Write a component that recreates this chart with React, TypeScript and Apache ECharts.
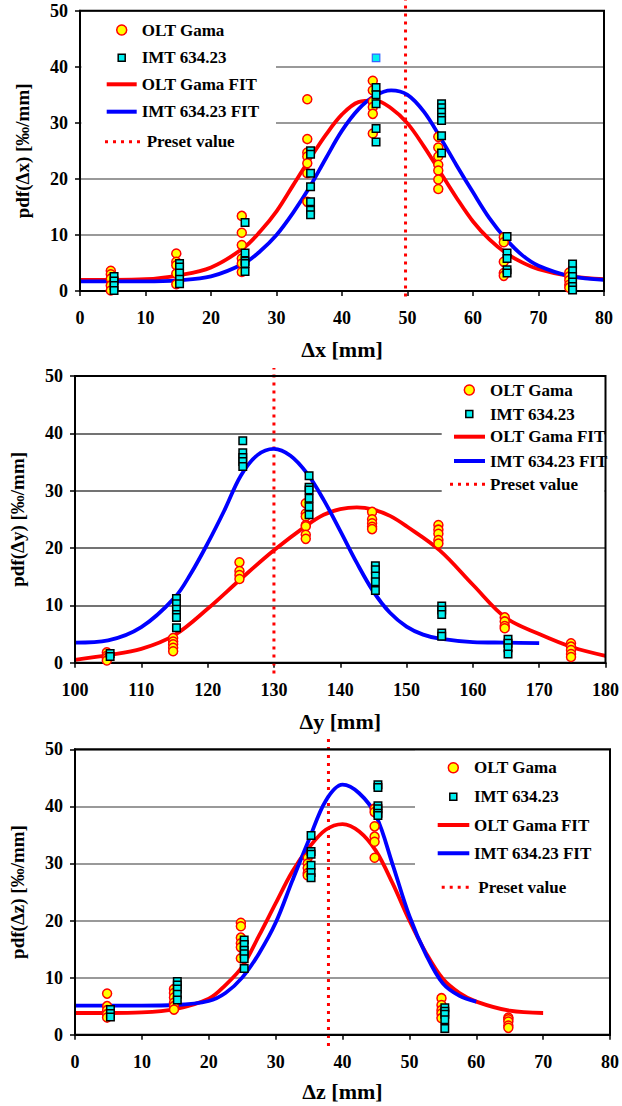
import React, { useEffect, useRef } from "react";
import * as echarts from "echarts";

const FONT = '"Liberation Serif", "Times New Roman", serif';

// ---------- Chart 1: Δx ----------
const dxOltX = [4.7, 14.7, 24.7, 34.7, 44.7, 54.7, 64.7, 74.7];
const dxOltY = [
  [3.6, 3.0, 2.2, 1.0, 0.1],
  [6.7, 5.2, 4.6, 3.1, 1.2],
  [13.4, 10.4, 8.2, 5.8, 4.9, 3.4],
  [34.2, 27.1, 24.7, 24.0, 22.8, 21.0, 15.9],
  [37.5, 35.8, 33.8, 32.8, 31.6, 28.1],
  [27.5, 25.6, 24.0, 22.5, 21.5, 19.9, 18.2],
  [9.6, 8.7, 5.2, 3.2, 2.7],
  [3.3, 2.6, 1.9, 1.1, 0.6],
];
const dxImtX = [5.2, 15.2, 25.2, 35.2, 45.2, 55.2, 65.2, 75.2];
const dxImtY = [
  [2.6, 1.8, 1.0, 0.1],
  [4.9, 4.3, 3.2, 2.1, 1.3],
  [12.2, 6.8, 5.3, 4.9, 3.5],
  [25.0, 24.4, 21.0, 18.6, 15.9, 14.4, 13.6],
  [36.3, 35.0, 33.4, 29.0, 26.6],
  [33.4, 32.7, 31.9, 31.0, 30.4, 27.7, 24.6],
  [9.7, 6.8, 5.8, 3.8, 3.2],
  [4.8, 3.6, 2.6, 1.6, 0.8, 0.2],
];
const dxImtOutlier = [[45.2, 41.6]];
const dxOltFitX = [0, 5, 10, 15, 20, 25, 27.5, 30, 32.5, 35, 37.5, 40, 42.5, 45, 47.5, 50, 52.5, 55, 57.5, 60, 62.5, 65, 67.5, 70, 75, 80];
const dxOltFitY = [2.0, 2.0, 2.1, 2.8, 4.2, 7.7, 10.6, 14.2, 18.8, 23.4, 27.8, 31.5, 33.7, 34.0, 32.6, 29.9, 25.8, 21.2, 16.6, 12.4, 9.2, 6.8, 5.1, 3.9, 2.6, 2.1];
const dxImtFitX = [0, 5, 10, 15, 20, 25, 27.5, 30, 32.5, 35, 37.5, 40, 42.5, 45, 47.5, 50, 52.5, 55, 57.5, 60, 62.5, 65, 67.5, 70, 75, 80];
const dxImtFitY = [1.7, 1.7, 1.7, 1.9, 2.6, 4.9, 7.1, 10.0, 13.9, 18.4, 23.6, 28.6, 32.4, 34.8, 35.8, 35.0, 32.0, 27.4, 22.4, 17.6, 13.0, 9.3, 6.4, 4.5, 2.6, 2.0];
const dxPreset = 49.7;
const dxPresetSpan = [-1, 52];

// ---------- Chart 2: Δy ----------
const dyOltX = [104.8, 114.8, 124.8, 134.8, 144.8, 154.8, 164.8, 174.8];
const dyOltY = [
  [1.8, 1.2, 0.8, 0.4],
  [4.3, 3.7, 3.2, 2.6, 2.0],
  [17.5, 16.0, 15.3, 14.6],
  [27.8, 26.0, 25.5, 24.0, 23.8, 22.3, 21.6],
  [26.3, 25.0, 24.3, 23.7, 23.3],
  [24.0, 23.2, 22.5, 21.4, 20.8],
  [7.9, 7.2, 6.4, 6.0],
  [3.4, 2.8, 2.2, 1.5, 1.0],
];
const dyImtX = [105.3, 115.3, 125.3, 135.3, 145.3, 155.3, 165.3];
const dyImtY = [
  [1.6, 1.1],
  [11.2, 10.3, 9.3, 8.4, 7.9, 6.1],
  [38.7, 36.6, 35.8, 35.1, 34.2],
  [32.6, 30.6, 30.1, 28.7, 27.2, 25.8],
  [16.9, 16.2, 15.1, 14.1, 12.6],
  [9.9, 9.2, 8.4, 5.2, 4.6],
  [4.1, 3.4, 2.6, 1.5],
];
const dyOltFitX = [100, 105, 110, 115, 120, 125, 130, 135, 137.5, 140, 142.5, 145, 147.5, 150, 155, 160, 165, 170, 175, 180];
const dyOltFitY = [0.5, 1.3, 2.4, 4.8, 9.4, 14.6, 19.6, 24.0, 25.8, 26.8, 27.1, 26.7, 25.6, 23.8, 19.6, 13.6, 7.8, 5.0, 2.7, 1.2];
const dyImtFitX = [100, 105, 110, 115, 117.5, 120, 122.5, 125, 127.5, 130, 132.5, 135, 137.5, 140, 142.5, 145, 147.5, 150, 152.5, 155, 160, 165, 170];
const dyImtFitY = [3.5, 3.9, 6.2, 11.3, 15.6, 20.8, 26.5, 32.6, 36.2, 37.3, 36.1, 33.0, 28.4, 23.0, 17.4, 12.4, 8.7, 6.3, 4.9, 4.2, 3.6, 3.5, 3.4];
const dyPreset = 130;
const dyPresetSpan = [-1.9, 51.4];

// ---------- Chart 3: Δz ----------
const dzOltX = [4.8, 14.8, 24.8, 34.8, 44.8, 54.8, 64.8];
const dzOltY = [
  [7.2, 5.0, 4.3, 3.6, 3.0],
  [8.0, 7.3, 6.5, 5.6, 5.0, 4.4],
  [19.6, 19.0, 17.0, 16.0, 15.3, 13.4],
  [31.0, 30.0, 29.2, 28.3, 27.9],
  [39.6, 39.0, 36.5, 34.7, 33.8, 31.0],
  [6.4, 5.2, 4.3, 3.7, 2.9],
  [3.0, 2.7, 2.3, 1.6, 1.2],
];
const dzImtX = [5.3, 15.3, 25.3, 35.3, 45.3, 55.3];
const dzImtY = [
  [4.4, 3.7, 3.1],
  [9.3, 8.7, 8.0, 7.1, 6.1],
  [16.6, 15.8, 14.8, 14.2, 13.3, 11.6],
  [34.9, 32.1, 31.6, 29.7, 28.4, 27.5],
  [43.8, 43.3, 40.1, 39.6, 38.8, 38.4],
  [4.7, 4.1, 3.6, 2.6, 1.1],
];
const dzOltFitX = [0, 5, 10, 15, 20, 22.5, 25, 27.5, 30, 32.5, 35, 37.5, 40, 42.5, 45, 47.5, 50, 52.5, 55, 57.5, 60, 65, 70];
const dzOltFitY = [3.8, 3.8, 3.9, 4.5, 6.3, 8.7, 11.9, 17.3, 23.0, 28.6, 32.8, 35.9, 36.9, 35.6, 32.2, 26.5, 20.0, 14.3, 9.8, 7.3, 5.8, 4.2, 3.8];
const dzImtFitX = [0, 5, 10, 15, 20, 22.5, 25, 27.5, 30, 32.5, 35, 37.5, 40, 42.5, 45, 47.5, 50, 52.5, 55, 57.5, 60];
const dzImtFitY = [5.1, 5.1, 5.1, 5.2, 5.9, 7.3, 10.0, 14.2, 19.6, 27.0, 34.2, 41.0, 43.8, 42.3, 38.4, 29.8, 20.8, 14.0, 9.0, 6.8, 5.8];
const dzPreset = 37.9;
const dzPresetSpan = [-2, 52];

const legendNames = ["OLT Gama", "IMT 634.23", "OLT Gama FIT", "IMT 634.23 FIT", "Preset value"];

function groupsToPoints(xs: number[], ys: number[][]) {
  const out: number[][] = [];
  xs.forEach((x, i) => ys[i].forEach((y) => out.push([x, y])));
  return out;
}
function zipXY(xs: number[], ys: number[]) {
  return xs.map((x, i) => [x, ys[i]]);
}

function chartSeries(
  idx: number,
  oltX: number[], oltY: number[][],
  imtX: number[], imtY: number[][],
  oltFitX: number[], oltFitY: number[],
  imtFitX: number[], imtFitY: number[],
  preset: number, span: number[],
  outlier?: number[][]
) {
  const s: any[] = [
    {
      type: "line", name: legendNames[4], xAxisIndex: idx, yAxisIndex: idx,
      data: [[preset, span[0]], [preset, span[1]]], clip: false, symbol: "none", z: 2,
      lineStyle: { color: "#ff0000", width: 3, type: [3, 5] },
    },
    {
      type: "line", name: legendNames[2], xAxisIndex: idx, yAxisIndex: idx,
      data: zipXY(oltFitX, oltFitY), symbol: "none", smooth: 0.35, z: 2,
      lineStyle: { color: "#ff0000", width: 3.8 },
    },
    {
      type: "line", name: legendNames[3], xAxisIndex: idx, yAxisIndex: idx,
      data: zipXY(imtFitX, imtFitY), symbol: "none", smooth: 0.35, z: 2,
      lineStyle: { color: "#0000ff", width: 3.8 },
    },
    {
      type: "scatter", name: legendNames[0], xAxisIndex: idx, yAxisIndex: idx,
      data: groupsToPoints(oltX, oltY), symbol: "circle", symbolSize: 9, z: 3,
      itemStyle: { color: "#ffff00", borderColor: "#ff0000", borderWidth: 1.5, opacity: 1 },
    },
    {
      type: "scatter", name: legendNames[1], xAxisIndex: idx, yAxisIndex: idx,
      data: groupsToPoints(imtX, imtY), symbol: "rect", symbolSize: 7.5, z: 4,
      itemStyle: { color: "#00f0f0", borderColor: "#000000", borderWidth: 1.5, opacity: 1 },
    },
  ];
  if (outlier) {
    s.push({
      type: "scatter", name: legendNames[1] + " ", xAxisIndex: idx, yAxisIndex: idx,
      data: outlier, symbol: "rect", symbolSize: 7.5, z: 4,
      itemStyle: { color: "#00f0f0", borderColor: "#3366ff", borderWidth: 1.2, opacity: 1 },
    });
  }
  return s;
}

function legendGraphic(
  box: number[], symX: number, rows: number[], textX: number, presetTextX: number,
  lineX: number[], dotX: number[]
) {
  const txt = (x: number, y: number, t: string) => ({
    type: "text", x, y, z: 20, silent: true,
    style: { text: t, fill: "#000", fontSize: 17, fontWeight: "bold", fontFamily: FONT, verticalAlign: "middle", align: "left" },
  });
  return [
    { type: "rect", z: 1, silent: true, shape: { x: box[0], y: box[1], width: box[2], height: box[3] }, style: { fill: "#ffffff" } },
    { type: "circle", z: 20, silent: true, shape: { cx: symX, cy: rows[0], r: 5 }, style: { fill: "#ffff00", stroke: "#ff0000", lineWidth: 1.5 } },
    txt(textX, rows[0], legendNames[0]),
    { type: "rect", z: 20, silent: true, shape: { x: symX - 3.5, y: rows[1] - 3.5, width: 7, height: 7 }, style: { fill: "#00f0f0", stroke: "#000", lineWidth: 1.5 } },
    txt(textX, rows[1], legendNames[1]),
    { type: "line", z: 20, silent: true, shape: { x1: lineX[0], y1: rows[2], x2: lineX[1], y2: rows[2] }, style: { stroke: "#ff0000", lineWidth: 4 } },
    txt(textX, rows[2], legendNames[2]),
    { type: "line", z: 20, silent: true, shape: { x1: lineX[0], y1: rows[3], x2: lineX[1], y2: rows[3] }, style: { stroke: "#0000ff", lineWidth: 4 } },
    txt(textX, rows[3], legendNames[3]),
    { type: "line", z: 20, silent: true, shape: { x1: dotX[0], y1: rows[4], x2: dotX[1], y2: rows[4] }, style: { stroke: "#ff0000", lineWidth: 3, lineDash: [3, 5] } },
    txt(presetTextX, rows[4], legendNames[4]),
  ];
}

export default function App() {
  const ref = useRef<HTMLDivElement>(null);
  useEffect(() => {
    if (!ref.current) return;
    const chart = echarts.init(ref.current, null, { renderer: "svg" });
    const grids = [
      { left: 80, top: 10.7, width: 524, height: 280.3 },
      { left: 73.5, top: 376, width: 534, height: 286.7 },
      { left: 74.3, top: 749.3, width: 536.7, height: 285.4 },
    ];
    const gridColors = ["#777777", "#444444", "#777777"];
    const xNames = ["Δx [mm]", "Δy [mm]", "Δz [mm]"];
    const yNames = ["pdf(Δx) [‰/mm]", "pdf(Δy) [‰/mm]", "pdf(Δz) [‰/mm]"];
    const xRanges = [[0, 80], [100, 180], [0, 80]];
    const xNameGaps = [47, 48, 46];
    const txtStyle = { color: "#000", fontWeight: "bold", fontFamily: FONT };

    const option: any = {
      animation: false,
      backgroundColor: "#ffffff",
      grid: grids.map((g) => ({ ...g, show: true, borderColor: "#000", borderWidth: 2, backgroundColor: "transparent", z: 3 })),
      xAxis: grids.map((_, i) => ({
        type: "value", gridIndex: i, min: xRanges[i][0], max: xRanges[i][1], interval: 10,
        name: xNames[i], nameLocation: "middle", nameGap: xNameGaps[i],
        nameTextStyle: { ...txtStyle, fontSize: 22 },
        axisLine: { show: true, onZero: false, lineStyle: { color: "#000", width: 2 } },
        axisTick: { show: true, inside: false, length: 5, lineStyle: { color: "#000", width: 1.5 } },
        axisLabel: { ...txtStyle, fontSize: 18, margin: 18 },
        splitLine: { show: false },
      })),
      yAxis: grids.map((_, i) => ({
        type: "value", gridIndex: i, min: 0, max: 50, interval: 10,
        name: yNames[i], nameLocation: "middle", nameGap: 48, nameRotate: 90,
        nameTextStyle: { ...txtStyle, fontSize: 19 },
        axisLine: { show: true, onZero: false, lineStyle: { color: "#000", width: 2 } },
        axisTick: { show: true, inside: false, length: 5, lineStyle: { color: "#000", width: 1.5 } },
        axisLabel: { ...txtStyle, fontSize: 18, margin: 12 },
        splitLine: { show: true, lineStyle: { color: gridColors[i], width: 1.5 } },
      })),
      series: [
        ...chartSeries(0, dxOltX, dxOltY, dxImtX, dxImtY, dxOltFitX, dxOltFitY, dxImtFitX, dxImtFitY, dxPreset, dxPresetSpan, dxImtOutlier),
        ...chartSeries(1, dyOltX, dyOltY, dyImtX, dyImtY, dyOltFitX, dyOltFitY, dyImtFitX, dyImtFitY, dyPreset, dyPresetSpan),
        ...chartSeries(2, dzOltX, dzOltY, dzImtX, dzImtY, dzOltFitX, dzOltFitY, dzImtFitX, dzImtFitY, dzPreset, dzPresetSpan),
      ],
      graphic: [
        ...legendGraphic([81.5, 12, 194.5, 143], 121.7, [30, 57.7, 84.3, 111.7, 141.7], 141.7, 146.7, [106.7, 136.7], [105, 143]),
        ...legendGraphic([441.7, 377.5, 162.8, 122.5], 469.3, [390, 414, 436.7, 461, 484.3], 490, 490, [454, 485], [450, 486.7]),
        ...legendGraphic([415, 750.8, 194, 149], 453.3, [767.7, 796.7, 825, 853.3, 887.3], 474, 478.3, [437.7, 469.3], [441.7, 470]),
      ],
    };
    chart.setOption(option);
    return () => chart.dispose();
  }, []);
  return (
    <div
      ref={ref}
      style={{ position: "absolute", left: 0, top: 0, width: 622, height: 1106, background: "#fff" }}
    />
  );
}
